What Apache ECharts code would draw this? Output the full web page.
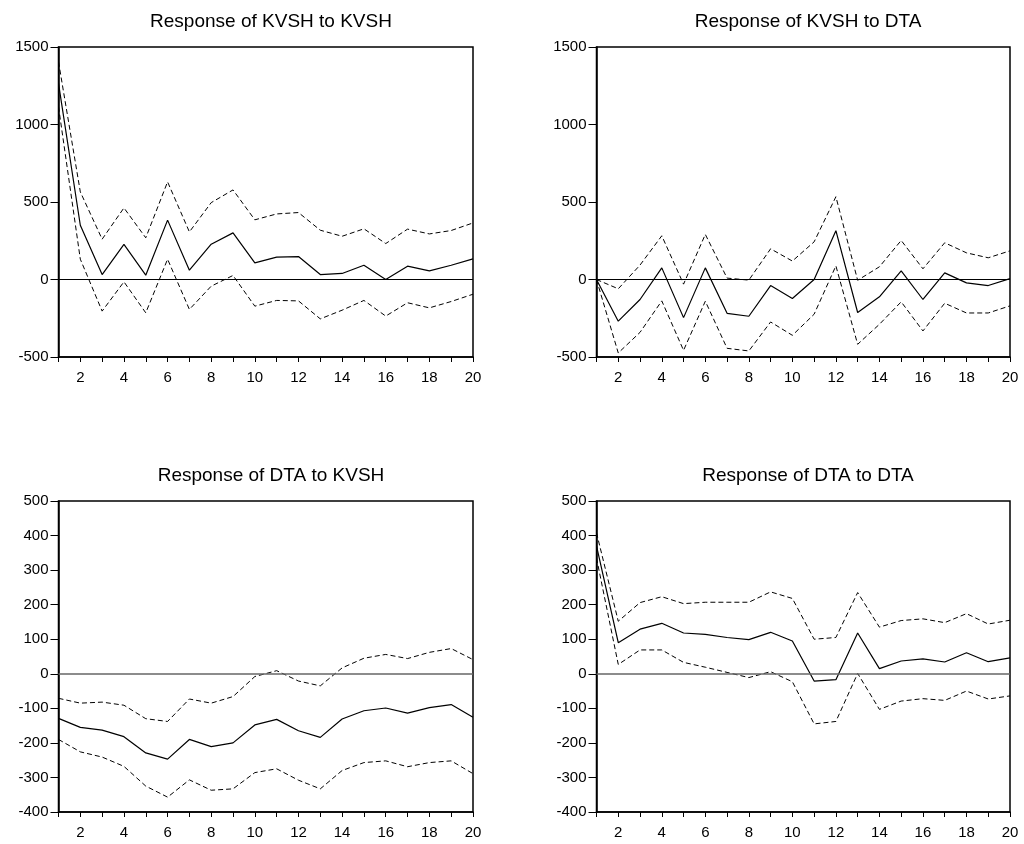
<!DOCTYPE html>
<html>
<head>
<meta charset="utf-8">
<script src="https://cdn.jsdelivr.net/npm/echarts@6/dist/echarts.min.js"></script>
<style>
  html, body { margin: 0; padding: 0; background: #fff; }
  #chart { width: 1024px; height: 844px; }
</style>
</head>
<body>
<div id="chart"></div>
<script>
const periods = ['1','2','3','4','5','6','7','8','9','10','11','12','13','14','15','16','17','18','19','20'];

// Response of KVSH to KVSH
const kk_resp  = [1265, 350, 32, 226, 28, 383, 60, 228, 301, 107, 144, 148, 32, 39, 92, 0, 86, 56, 92, 133];
const kk_upper = [1405, 565, 260, 462, 269, 630, 307, 496, 578, 385, 423, 432, 318, 279, 327, 232, 325, 294, 316, 365];
const kk_lower = [1115, 131, -204, -15, -215, 131, -193, -43, 26, -172, -135, -138, -254, -198, -135, -236, -150, -183, -142, -95];

// Response of KVSH to DTA
const kd_resp  = [0, -269, -129, 75, -246, 75, -218, -237, -39, -123, 0, 315, -213, -112, 56, -129, 43, -22, -39, 6];
const kd_upper = [0, -60, 93, 282, -30, 291, 9, -4, 198, 119, 243, 534, -5, 82, 252, 69, 237, 172, 140, 185];
const kd_lower = [0, -474, -341, -138, -457, -140, -444, -461, -274, -360, -224, 88, -418, -289, -144, -332, -153, -216, -216, -170];

// Response of DTA to KVSH
const dk_resp  = [-129, -155, -163, -182, -229, -247, -190, -211, -200, -148, -132, -165, -184, -131, -107, -99, -114, -98, -89, -126];
const dk_upper = [-71, -85, -82, -91, -130, -138, -73, -85, -66, -8, 9, -21, -35, 17, 45, 56, 44, 62, 73, 41];
const dk_lower = [-190, -226, -241, -268, -325, -357, -307, -337, -333, -286, -275, -308, -333, -280, -257, -252, -269, -257, -252, -289];

// Response of DTA to DTA
const dd_resp  = [370, 90, 129, 146, 118, 114, 105, 99, 120, 95, -21, -17, 118, 15, 37, 43, 34, 61, 35, 46];
const dd_upper = [408, 152, 206, 223, 203, 207, 207, 207, 237, 218, 100, 105, 235, 135, 154, 159, 148, 174, 144, 155];
const dd_lower = [335, 27, 69, 69, 33, 19, 4, -11, 6, -23, -145, -138, 1, -103, -79, -72, -77, -50, -73, -64];

const titles = ['Response of KVSH to KVSH', 'Response of KVSH to DTA', 'Response of DTA to KVSH', 'Response of DTA to DTA'];
const panels = [
  [kk_resp, kk_upper, kk_lower],
  [kd_resp, kd_upper, kd_lower],
  [dk_resp, dk_upper, dk_lower],
  [dd_resp, dd_upper, dd_lower]
];
const yRanges = [
  { min: -500, max: 1500, interval: 500 },
  { min: -500, max: 1500, interval: 500 },
  { min: -400, max: 500, interval: 100 },
  { min: -400, max: 500, interval: 100 }
];

const grids = [
  { left: 58.5, top: 47, width: 414.5, height: 310 },
  { left: 596.5, top: 47, width: 413.5, height: 310 },
  { left: 58.5, top: 501, width: 414.5, height: 311 },
  { left: 596.5, top: 501, width: 413.5, height: 311 }
];
const titlePos = [[266, 7], [803, 7], [266, 461], [803, 461]];
const zeroColors = ['#000', '#000', '#666', '#666'];

const font = 'Liberation Sans, Arial, Helvetica, sans-serif';

const chart = echarts.init(document.getElementById('chart'));

const series = [];
panels.forEach((p, i) => {
  series.push({
    type: 'line', xAxisIndex: i, yAxisIndex: i, data: p[0],
    symbol: 'none', lineStyle: { color: '#000', width: 1.2 },
    markLine: {
      silent: true, symbol: 'none', label: { show: false },
      lineStyle: { color: zeroColors[i], width: i < 2 ? 1 : 1.5, type: 'solid' },
      data: [{ yAxis: 0 }]
    },
    z: 3
  });
  series.push({
    type: 'line', xAxisIndex: i, yAxisIndex: i, data: p[1],
    symbol: 'none', lineStyle: { color: '#000', width: 1, type: [5, 3] }
  });
  series.push({
    type: 'line', xAxisIndex: i, yAxisIndex: i, data: p[2],
    symbol: 'none', lineStyle: { color: '#000', width: 1, type: [5, 3] }
  });
});

const option = {
  animation: false,
  backgroundColor: '#fff',
  title: titles.map((t, i) => ({
    text: t,
    left: titlePos[i][0], top: titlePos[i][1], textAlign: 'center',
    textStyle: { fontFamily: font, fontSize: 19, fontWeight: 'normal', color: '#000' }
  })),
  grid: grids.map(g => Object.assign({ show: true, borderColor: '#000', borderWidth: 1.5 }, g)),
  xAxis: grids.map((g, i) => ({
    type: 'category', gridIndex: i, data: periods, boundaryGap: false,
    axisLine: { onZero: false, lineStyle: { color: '#000', width: 1.5 } },
    axisTick: { show: true, interval: 0, length: 5, lineStyle: { color: '#000' } },
    axisLabel: {
      interval: (idx) => idx % 2 === 1,
      color: '#000', fontFamily: font, fontSize: 15, margin: 13
    },
    splitLine: { show: false }
  })),
  yAxis: yRanges.map((r, i) => ({
    type: 'value', gridIndex: i, min: r.min, max: r.max, interval: r.interval,
    axisLine: { show: true, onZero: false, lineStyle: { color: '#000', width: 1.5 } },
    axisTick: { show: true, length: 8, lineStyle: { color: '#000' } },
    axisLabel: {
      color: '#000', fontFamily: font, fontSize: 15, margin: 10,
      formatter: (v) => String(v)
    },
    splitLine: { show: false }
  })),
  series
};

chart.setOption(option);
</script>
</body>
</html>
